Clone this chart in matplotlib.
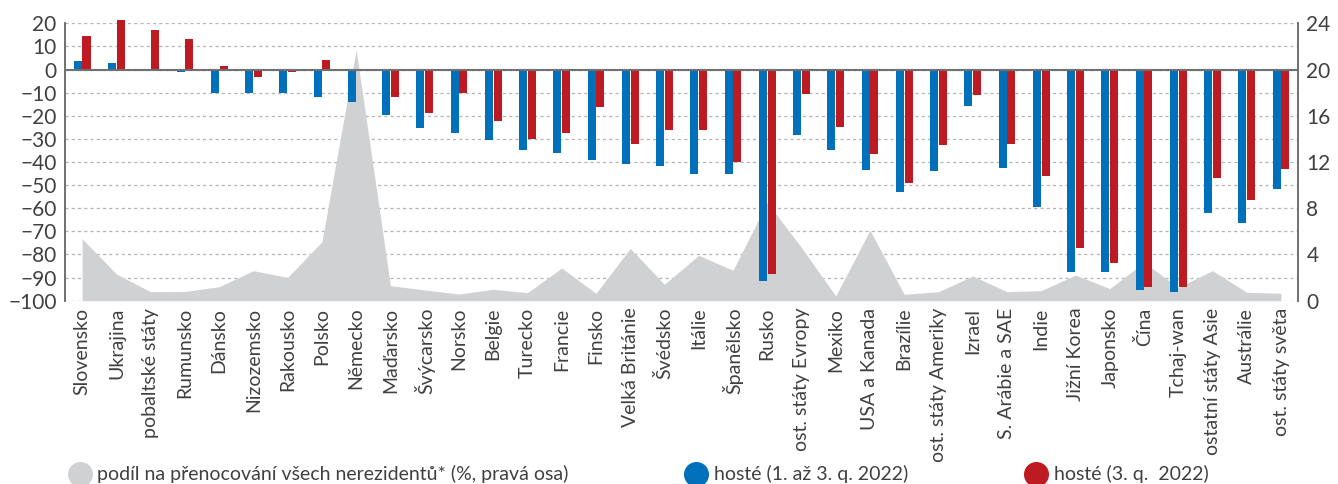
import numpy as np
import matplotlib
matplotlib.use("Agg")
import matplotlib.pyplot as plt
from matplotlib.lines import Line2D

plt.rcParams['font.family'] = ['Lato', 'DejaVu Sans']

# kategorie (zeme)
zeme = ["Slovensko", "Ukrajina", "pobaltské státy", "Rumunsko", "Dánsko", "Nizozemsko",
        "Rakousko", "Polsko", "Německo", "Maďarsko", "Švýcarsko", "Norsko", "Belgie",
        "Turecko", "Francie", "Finsko", "Velká Británie", "Švédsko", "Itálie", "Španělsko",
        "Rusko", "ost. státy Evropy", "Mexiko", "USA a Kanada", "Brazílie",
        "ost. státy Ameriky", "Izrael", "S. Arábie a SAE", "Indie", "Jižní Korea",
        "Japonsko", "Čína", "Tchaj-wan", "ostatní státy Asie", "Austrálie", "ost. státy světa"]

# hoste (1. az 3. q. 2022), levá osa
hoste_q1_3 = [3.5, 2.9, 0.0, -1.0, -10.0, -10.3, -10.3, -11.8, -13.9, -19.7, -25.4, -27.6,
              -30.5, -34.8, -36.0, -39.3, -40.7, -41.7, -45.2, -45.2, -91.5, -28.3, -34.8,
              -43.6, -53.1, -44.0, -15.8, -42.7, -59.3, -87.4, -87.7, -95.5, -96.2, -62.2,
              -66.5, -51.8]

# hoste (3. q. 2022), levá osa
hoste_q3 = [14.5, 21.4, 17.1, 13.2, 1.4, -3.4, -0.9, 4.1, 0.0, -11.8, -18.9, -10.3,
            -22.1, -30.2, -27.6, -16.1, -32.2, -26.2, -26.2, -40.1, -88.6, -10.5, -25.0,
            -36.7, -49.0, -32.8, -10.9, -32.2, -45.9, -77.3, -83.8, -94.2, -94.0, -46.8,
            -56.4, -43.0]

# podil na prenocovani vsech nerezidentu (%, pravá osa)
podil = [5.36, 2.31, 0.78, 0.8, 1.21, 2.6, 2.02, 5.1, 21.7, 1.3, 0.93, 0.58,
         0.99, 0.69, 2.83, 0.64, 4.53, 1.42, 3.93, 2.63, 8.5, 4.6, 0.41,
         6.1, 0.55, 0.78, 2.14, 0.78, 0.87, 2.22, 1.04, 3.32, 1.15, 2.6,
         0.73, 0.64]

modra = "#0070BA"
cervena = "#BE1A22"
seda = "#D0D1D3"
text_barva = "#404040"

x = np.arange(len(zeme))
sirka = 0.235

fig = plt.figure(figsize=(13.38, 4.84), dpi=100)
ax = fig.add_axes([0.0486, 0.3787, 0.9216, 0.5732])  # prava osa (podil)
ax2 = ax.twinx()                                      # leva osa (hoste)

# podil - seda plocha (vzadu)
ax.fill_between(x, 0, podil, color=seda, lw=0, zorder=2)
ax.set_ylim(0, 24)
ax.set_yticks(np.arange(0, 25, 4))
ax.set_yticks(np.arange(0, 25, 2), minor=True)
ax.yaxis.tick_right()
ax.yaxis.set_label_position("right")
ax.grid(True, which='both', axis='y', color='#B4B4B4', ls=(0, (2.5, 2.5)), lw=0.9, zorder=1)
ax.set_axisbelow(True)

# sloupce
ax2.bar(x - sirka / 2 - 0.01, hoste_q1_3, sirka, color=modra, zorder=3, clip_on=False)
ax2.bar(x + sirka / 2 + 0.01, hoste_q3, sirka, color=cervena, zorder=3, clip_on=False)
ax2.axhline(0, color='#707070', lw=1.5, zorder=4)
ax2.set_ylim(-100, 20)
ax2.set_yticks(np.arange(-100, 21, 10))
ax2.yaxis.tick_left()
ax2.set_yticklabels([f"{v}".replace("-", "\u2212") for v in range(-100, 21, 10)])
ax2.patch.set_visible(False)

ax.set_xlim(-0.5, len(zeme) - 0.5)
ax.set_xticks(x)
ax.set_xticklabels(zeme, rotation=90, fontsize=14, color=text_barva)

for a in (ax, ax2):
    a.spines['top'].set_visible(False)
    a.spines['bottom'].set_visible(False)
    a.spines['left'].set_color('#707070')
    a.spines['right'].set_color('#707070')
    a.spines['left'].set_linewidth(1.2)
    a.spines['right'].set_linewidth(1.2)
    a.tick_params(axis='y', which='both', length=0, labelsize=15, labelcolor=text_barva, pad=6)
    a.tick_params(axis='x', length=0, pad=5)

# legenda
prvky = [Line2D([0], [0], marker='o', ls='', color=seda, markersize=17),
         Line2D([0], [0], marker='o', ls='', color=modra, markersize=17),
         Line2D([0], [0], marker='o', ls='', color=cervena, markersize=17)]
popisky = ["podíl na přenocování všech nerezidentů* (%, pravá osa)",
           "hosté (1. až 3. q. 2022)", "hosté (3. q.  2022)"]
pozice = [0.045, 0.506, 0.760]
for p, h, t in zip(pozice, prvky, popisky):
    fig.legend([h], [t], loc='center left', bbox_to_anchor=(p, 0.02), frameon=False,
               fontsize=14, labelcolor=text_barva, handletextpad=0.3, borderaxespad=0,
               handlelength=1.2)

fig.savefig("out.png", dpi=100)
